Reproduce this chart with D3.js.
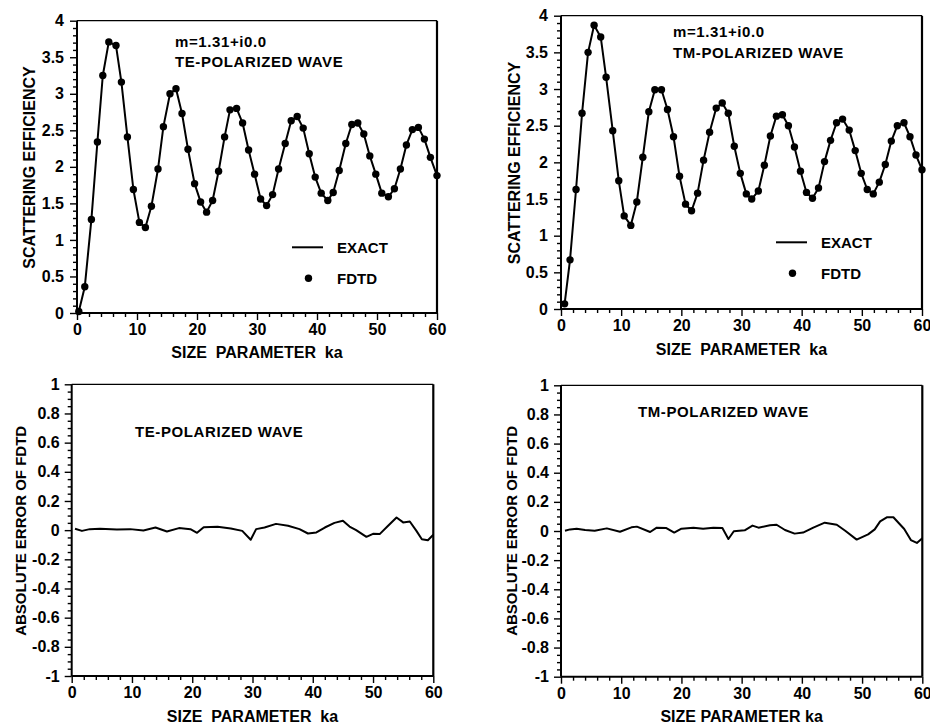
<!DOCTYPE html>
<head>
    <meta charset="utf-8">
    <title>Scattering efficiency, FDTD vs exact</title>
    <style>
        body { margin: 0; background: #fff; }
        svg { display: block; }
        text { font-family: "Liberation Sans", Arial, sans-serif; font-weight: bold; fill: #000; }
    </style>
</head>

<body>

    <svg width="930" height="724"></svg>

    <script src="https://d3js.org/d3.v7.min.js"></script>

    <script>

        // ---- data ----
        var teKa = [0.3, 1.3, 2.4, 3.4, 4.3, 5.3, 6.5, 7.4, 8.4, 9.4, 10.4, 11.4, 12.4, 13.5, 14.4,
            15.5, 16.5, 17.5, 18.5, 19.6, 20.6, 21.6, 22.6, 23.6, 24.6, 25.5, 26.6, 27.6, 28.6, 29.6,
            30.6, 31.6, 32.6, 33.6, 34.7, 35.7, 36.7, 37.7, 38.7, 39.7, 40.7, 41.8, 42.7, 43.7, 44.8,
            45.8, 46.8, 47.8, 48.8, 49.8, 50.8, 51.9, 52.9, 53.9, 54.9, 55.9, 56.9, 57.9, 58.9, 60.0];
        var teQ = [0.02, 0.36, 1.28, 2.34, 3.25, 3.71, 3.66, 3.16, 2.41, 1.69, 1.24, 1.17, 1.46, 1.97, 2.55,
            3.00, 3.07, 2.73, 2.24, 1.77, 1.52, 1.38, 1.54, 1.94, 2.41, 2.78, 2.80, 2.60, 2.23, 1.90,
            1.56, 1.47, 1.62, 1.97, 2.32, 2.63, 2.69, 2.53, 2.18, 1.86, 1.64, 1.54, 1.65, 1.95, 2.32,
            2.58, 2.60, 2.45, 2.15, 1.90, 1.64, 1.59, 1.70, 1.97, 2.30, 2.51, 2.54, 2.38, 2.13, 1.88];

        var tmKa = [0.6, 1.5, 2.5, 3.5, 4.5, 5.5, 6.6, 7.5, 8.6, 9.6, 10.5, 11.6, 12.6, 13.6, 14.6,
            15.6, 16.7, 17.7, 18.7, 19.7, 20.7, 21.7, 22.7, 23.7, 24.7, 25.8, 26.8, 27.8, 28.8, 29.8,
            30.8, 31.7, 32.8, 33.8, 34.8, 35.8, 36.8, 37.8, 38.8, 39.8, 40.8, 41.8, 42.8, 43.8, 44.8,
            45.8, 46.8, 47.9, 48.9, 49.9, 50.9, 51.9, 52.9, 53.9, 54.9, 55.9, 57.0, 58.0, 59.0, 60.0];
        var tmQ = [0.07, 0.67, 1.63, 2.67, 3.50, 3.87, 3.71, 3.16, 2.43, 1.75, 1.27, 1.14, 1.46, 2.07, 2.69,
            2.99, 2.99, 2.72, 2.35, 1.81, 1.43, 1.34, 1.58, 2.03, 2.41, 2.74, 2.81, 2.67, 2.22, 1.85,
            1.57, 1.50, 1.61, 1.96, 2.36, 2.63, 2.65, 2.50, 2.21, 1.88, 1.59, 1.51, 1.65, 2.01, 2.30,
            2.54, 2.59, 2.44, 2.16, 1.85, 1.63, 1.57, 1.73, 1.97, 2.29, 2.50, 2.54, 2.35, 2.10, 1.90];

        var teErrKa = [0.55, 1.7, 3.0, 4.7, 7.5, 9.7, 11.9, 13.9, 15.8, 17.8, 19.7, 20.8, 21.9, 24.2,
            26.4, 28.3, 29.7, 30.6, 32.0, 33.9, 35.9, 37.8, 39.2, 40.6, 42.0, 43.6, 45.0, 46.1, 47.2,
            48.9, 50.0, 51.1, 52.5, 53.9, 55.0, 56.1, 57.2, 58.1, 59.1, 60.0];
        var teErr = [0.010, -0.005, 0.007, 0.009, 0.005, 0.007, -0.002, 0.018, -0.009, 0.014, 0.007, -0.018,
            0.020, 0.023, 0.011, -0.005, -0.066, 0.007, 0.018, 0.043, 0.030, 0.007, -0.023, -0.016, 0.018,
            0.050, 0.064, 0.025, 0.000, -0.046, -0.025, -0.027, 0.030, 0.087, 0.053, 0.059, -0.005, -0.062,
            -0.069, -0.032];

        var tmErrKa = [0.66, 1.5, 2.6, 4.0, 5.6, 7.6, 9.8, 11.7, 12.6, 14.8, 15.9, 17.5, 18.8, 20.0,
            22.0, 23.6, 25.3, 26.8, 27.8, 28.7, 30.5, 31.8, 32.8, 34.7, 35.8, 37.2, 38.8, 40.2, 41.9,
            43.8, 45.8, 47.2, 49.1, 51.0, 52.1, 53.0, 54.1, 55.2, 57.0, 58.1, 59.1, 60.0];
        var tmErr = [0.002, 0.011, 0.016, 0.007, 0.002, 0.018, -0.005, 0.025, 0.030, -0.007, 0.023, 0.020,
            -0.011, 0.016, 0.023, 0.016, 0.023, 0.020, -0.055, -0.002, 0.005, 0.037, 0.023, 0.039, 0.043,
            0.007, -0.018, -0.011, 0.023, 0.057, 0.043, 0.002, -0.059, -0.023, 0.011, 0.066, 0.094, 0.094,
            0.014, -0.062, -0.082, -0.050];

        var xTicks = [0, 10, 20, 30, 40, 50, 60];
        var qTicks = [0, 0.5, 1, 1.5, 2, 2.5, 3, 3.5, 4];
        var errTicks = [-1, -0.8, -0.6, -0.4, -0.2, 0, 0.2, 0.4, 0.6, 0.8, 1];

        var svg = d3.select("svg");

        function pairs(xs, ys) {
            return xs.map(function (d, i) { return [d, ys[i]]; });
        }

        function panel(p) {
            var x = d3.scaleLinear().domain([0, 60]).range([p.left, p.right]),
                y = d3.scaleLinear().domain(p.yDomain).range([p.bottom, p.top]);

            var g = svg.append("g");

            // minor ticks
            var xMinor = d3.range(0, 61, 2).filter(function (d) { return d % 10 !== 0; });
            var yMinor = d3.range(p.yDomain[0], p.yDomain[1] + 1e-9, p.yMinorStep)
                .filter(function (d) { return !p.yTicks.some(function (t) { return Math.abs(t - d) < 1e-6; }); });

            g.append("g")
                .attr("transform", "translate(0," + p.bottom + ")")
                .call(d3.axisBottom(x).tickValues(xMinor).tickSize(4).tickFormat(""))
                .call(function (a) { a.select(".domain").remove(); });
            g.append("g")
                .attr("transform", "translate(" + p.left + ",0)")
                .call(d3.axisLeft(y).tickValues(yMinor).tickSize(4).tickFormat(""))
                .call(function (a) { a.select(".domain").remove(); });

            // major ticks
            var xa = g.append("g")
                .attr("transform", "translate(0," + p.bottom + ")")
                .call(d3.axisBottom(x).tickValues(xTicks).tickSize(7).tickPadding(p.xPad));
            var ya = g.append("g")
                .attr("transform", "translate(" + p.left + ",0)")
                .call(d3.axisLeft(y).tickValues(p.yTicks).tickSize(7).tickPadding(p.yPad)
                    .tickFormat(function (d) { return String(d); }));
            [xa, ya].forEach(function (a) {
                a.select(".domain").remove();
                a.selectAll("text").style("font-size", "16px").style("font-family", null);
            });
            g.selectAll(".tick line").attr("stroke", "#000").attr("stroke-width", 1.4);

            // frame
            g.append("line").attr("x1", p.left).attr("x2", p.left).attr("y1", p.top).attr("y2", p.bottom)
                .attr("stroke", "#000").attr("stroke-width", 2);
            g.append("line").attr("x1", p.left).attr("x2", p.right).attr("y1", p.bottom).attr("y2", p.bottom)
                .attr("stroke", "#000").attr("stroke-width", 2);
            g.append("line").attr("x1", p.left).attr("x2", p.right).attr("y1", p.top).attr("y2", p.top)
                .attr("stroke", "#000").attr("stroke-width", 1.2);
            g.append("line").attr("x1", p.right).attr("x2", p.right).attr("y1", p.top).attr("y2", p.bottom)
                .attr("stroke", "#000").attr("stroke-width", 2.2);

            var line = d3.line()
                .x(function (d) { return x(d[0]); })
                .y(function (d) { return y(d[1]); });

            g.append("path")
                .datum(p.line)
                .attr("fill", "none")
                .attr("stroke", "#000")
                .attr("stroke-width", 2)
                .attr("stroke-linejoin", "round")
                .attr("d", line);

            if (p.dots) {
                g.selectAll(".dot")
                    .data(p.dots)
                    .enter().append("circle")
                    .attr("class", "dot")
                    .attr("cx", function (d) { return x(d[0]); })
                    .attr("cy", function (d) { return y(d[1]); })
                    .attr("r", 3.7)
                    .attr("fill", "#000");
            }

            // axis titles
            g.append("text")
                .attr("x", (p.left + p.right) / 2)
                .attr("y", p.xTitleY)
                .attr("text-anchor", "middle")
                .style("font-size", "16px")
                .style("white-space", "pre")
                .text(p.xTitle);
            g.append("text")
                .attr("transform", "translate(" + p.yTitleX + "," + p.yTitleCy + ") rotate(-90)")
                .attr("text-anchor", "middle")
                .style("font-size", p.yTitleSize)
                .text(p.yTitle);

            // annotations
            p.notes.forEach(function (n) {
                g.append("text")
                    .attr("x", n.x).attr("y", n.y)
                    .style("font-size", "15px")
                    .style("letter-spacing", "0.6px")
                    .text(n.t);
            });

            if (p.legend) {
                var L = p.legend;
                g.append("line")
                    .attr("x1", L.x).attr("x2", L.x + 31).attr("y1", L.y).attr("y2", L.y)
                    .attr("stroke", "#000").attr("stroke-width", 2);
                g.append("text").attr("x", L.x + 45).attr("y", L.y + 5.5)
                    .style("font-size", "15px").text("EXACT");
                g.append("circle").attr("cx", L.x + 16.5).attr("cy", L.y + 31).attr("r", 3.7).attr("fill", "#000");
                g.append("text").attr("x", L.x + 45).attr("y", L.y + 37)
                    .style("font-size", "15px").text("FDTD");
            }
        }

        panel({
            left: 77, right: 437, top: 20.7, bottom: 313,
            yDomain: [0, 4], yTicks: qTicks, yMinorStep: 0.1, xPad: 4, yPad: 6,
            line: pairs(teKa, teQ), dots: pairs(teKa, teQ),
            xTitle: "SIZE  PARAMETER  ka", xTitleY: 358,
            yTitle: "SCATTERING EFFICIENCY", yTitleX: 35, yTitleCy: 167.5, yTitleSize: "16px",
            notes: [{ x: 175, y: 46.7, t: "m=1.31+i0.0" }, { x: 175, y: 66.7, t: "TE-POLARIZED WAVE" }],
            legend: { x: 292, y: 247.3 }
        });

        panel({
            left: 561, right: 922, top: 15.7, bottom: 309,
            yDomain: [0, 4], yTicks: qTicks, yMinorStep: 0.1, xPad: 4, yPad: 6,
            line: pairs(tmKa, tmQ), dots: pairs(tmKa, tmQ),
            xTitle: "SIZE  PARAMETER  ka", xTitleY: 355,
            yTitle: "SCATTERING EFFICIENCY", yTitleX: 520, yTitleCy: 163, yTitleSize: "16px",
            notes: [{ x: 673, y: 36.7, t: "m=1.31+i0.0" }, { x: 673, y: 58.3, t: "TM-POLARIZED WAVE" }],
            legend: { x: 776, y: 242.3 }
        });

        panel({
            left: 71.7, right: 433.3, top: 384.3, bottom: 676,
            yDomain: [-1, 1], yTicks: errTicks, yMinorStep: 0.05, xPad: 4, yPad: 5,
            line: pairs(teErrKa, teErr), dots: null,
            xTitle: "SIZE  PARAMETER  ka", xTitleY: 721.5,
            yTitle: "ABSOLUTE ERROR OF FDTD", yTitleX: 25.5, yTitleCy: 530.8, yTitleSize: "15px",
            notes: [{ x: 135, y: 436.7, t: "TE-POLARIZED WAVE" }],
            legend: null
        });

        panel({
            left: 561, right: 922.3, top: 385.3, bottom: 676.7,
            yDomain: [-1, 1], yTicks: errTicks, yMinorStep: 0.05, xPad: 4, yPad: 5,
            line: pairs(tmErrKa, tmErr), dots: null,
            xTitle: "SIZE PARAMETER ka", xTitleY: 722,
            yTitle: "ABSOLUTE ERROR OF FDTD", yTitleX: 517, yTitleCy: 530.8, yTitleSize: "15px",
            notes: [{ x: 638, y: 417, t: "TM-POLARIZED WAVE" }],
            legend: null
        });

    </script>

</body>
